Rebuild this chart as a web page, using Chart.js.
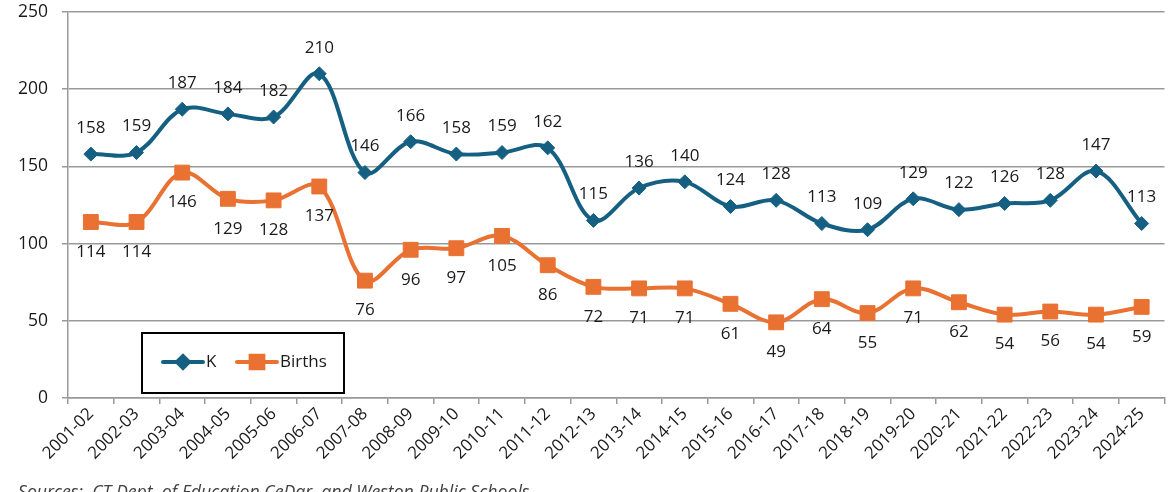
<!DOCTYPE html>
<html>
<head>
<meta charset="utf-8">
<script src="https://cdn.jsdelivr.net/npm/chart.js@4"></script>
<style>
  html, body { margin: 0; padding: 0; background: #fff; overflow: hidden; }
  #wrap { position: relative; width: 1176px; height: 492px; overflow: hidden; }
  #c { position: absolute; left: 0; top: 0; }
  #src { position: absolute; left: 18px; top: 483px; font: italic 17.7px "Open Sans", sans-serif; color: #404040; line-height: 17.5px; white-space: nowrap; }
</style>
</head>
<body>
<div id="wrap">
  <canvas id="c" width="1176" height="492"></canvas>
  <div id="src">Sources:&nbsp; CT Dept. of Education CeDar, and Weston Public Schools</div>
</div>
<script>
const categories = ["2001-02","2002-03","2003-04","2004-05","2005-06","2006-07","2007-08","2008-09","2009-10","2010-11","2011-12","2012-13","2013-14","2014-15","2015-16","2016-17","2017-18","2018-19","2019-20","2020-21","2021-22","2022-23","2023-24","2024-25"];
const kValues = [158,159,187,184,182,210,146,166,158,159,162,115,136,140,124,128,113,109,129,122,126,128,147,113];
const birthsValues = [114,114,146,129,128,137,76,96,97,105,86,72,71,71,61,49,64,55,71,62,54,56,54,59];
const yTicks = [0,50,100,150,200,250];

const K_COLOR = '#156082';
const B_COLOR = '#E97132';
const FONT = '"Open Sans", sans-serif';

const labelPlugin = {
  id: 'valueLabels',
  afterDatasetsDraw(chart) {
    const ctx = chart.ctx;
    ctx.save();
    ctx.font = '17px ' + FONT;
    ctx.fillStyle = '#1a1a1a';
    ctx.textAlign = 'center';
    ctx.textBaseline = 'middle';
    chart.data.datasets.forEach((ds, i) => {
      const meta = chart.getDatasetMeta(i);
      const off = ds.labelOffset;
      meta.data.forEach((pt, j) => {
        ctx.fillText(String(ds.data[j]), pt.x, pt.y + off);
      });
    });
    ctx.restore();
  }
};

const legendPlugin = {
  id: 'boxLegend',
  afterDraw(chart) {
    const ctx = chart.ctx;
    const a = chart.chartArea;
    const x0 = a.left + 74, y0 = a.bottom - 65, w = 202, h = 60;
    ctx.save();
    ctx.fillStyle = '#fff';
    ctx.fillRect(x0, y0, w, h);
    ctx.strokeStyle = '#000';
    ctx.lineWidth = 2;
    ctx.strokeRect(x0, y0, w, h);
    const cy = y0 + 29;
    const items = [
      {text: 'K', color: K_COLOR, style: 'rectRot', r: 6, lx: x0 + 21},
      {text: 'Births', color: B_COLOR, style: 'rect', r: 9, lx: x0 + 95}
    ];
    items.forEach(it => {
      ctx.strokeStyle = it.color;
      ctx.lineWidth = 4;
      ctx.lineCap = 'round';
      ctx.beginPath();
      ctx.moveTo(it.lx, cy);
      ctx.lineTo(it.lx + 40, cy);
      ctx.stroke();
      ctx.fillStyle = it.color;
      Chart.helpers.drawPoint(ctx, {pointStyle: it.style, radius: it.r, borderWidth: 1, rotation: 0}, it.lx + 20, cy);
      ctx.fillStyle = '#1a1a1a';
      ctx.font = '17px ' + FONT;
      ctx.textAlign = 'left';
      ctx.textBaseline = 'middle';
      ctx.fillText(it.text, it.lx + 43, cy);
    });
    ctx.restore();
  }
};

new Chart(document.getElementById('c'), {
  type: 'line',
  data: {
    labels: categories,
    datasets: [
      {
        label: 'K', data: kValues, borderColor: K_COLOR, backgroundColor: K_COLOR,
        borderWidth: 4, tension: 0.35, pointStyle: 'rectRot', pointRadius: 7,
        pointBorderWidth: 1, pointHoverRadius: 7, labelOffset: -26
      },
      {
        label: 'Births', data: birthsValues, borderColor: B_COLOR, backgroundColor: B_COLOR,
        borderWidth: 4, tension: 0.35, pointStyle: 'rect', pointRadius: 10.5,
        pointBorderWidth: 1, pointHoverRadius: 10.5, labelOffset: 30
      }
    ]
  },
  options: {
    responsive: false,
    animation: false,
    events: [],
    layout: { padding: { left: 0, right: 8, top: 12, bottom: 0 } },
    plugins: { legend: { display: false }, tooltip: { enabled: false } },
    scales: {
      x: {
        offset: true,
        grid: { display: true, drawOnChartArea: false, drawTicks: true, tickLength: 6, color: '#999', offset: true, lineWidth: 1.5 },
        border: { color: '#999', width: 1.5 },
        ticks: { minRotation: 45, maxRotation: 45, autoSkip: false, color: '#1a1a1a', font: { family: FONT, size: 17 }, padding: 0 },
        afterFit(scale) { scale.height = 94; }
      },
      y: {
        min: 0, max: 250,
        afterBuildTicks(scale) { scale.ticks = yTicks.map(v => ({ value: v })); },
        grid: { color: '#999', lineWidth: 1.5, tickLength: 6, drawTicks: true },
        border: { color: '#999', width: 1.5 },
        ticks: { color: '#1a1a1a', font: { family: FONT, size: 17.5, lineHeight: 1 }, padding: 14 },
        afterFit(scale) { scale.width = 68; scale.paddingTop = 0; scale.paddingBottom = 0; }
      }
    }
  },
  plugins: [labelPlugin, legendPlugin]
});
</script>
</body>
</html>
